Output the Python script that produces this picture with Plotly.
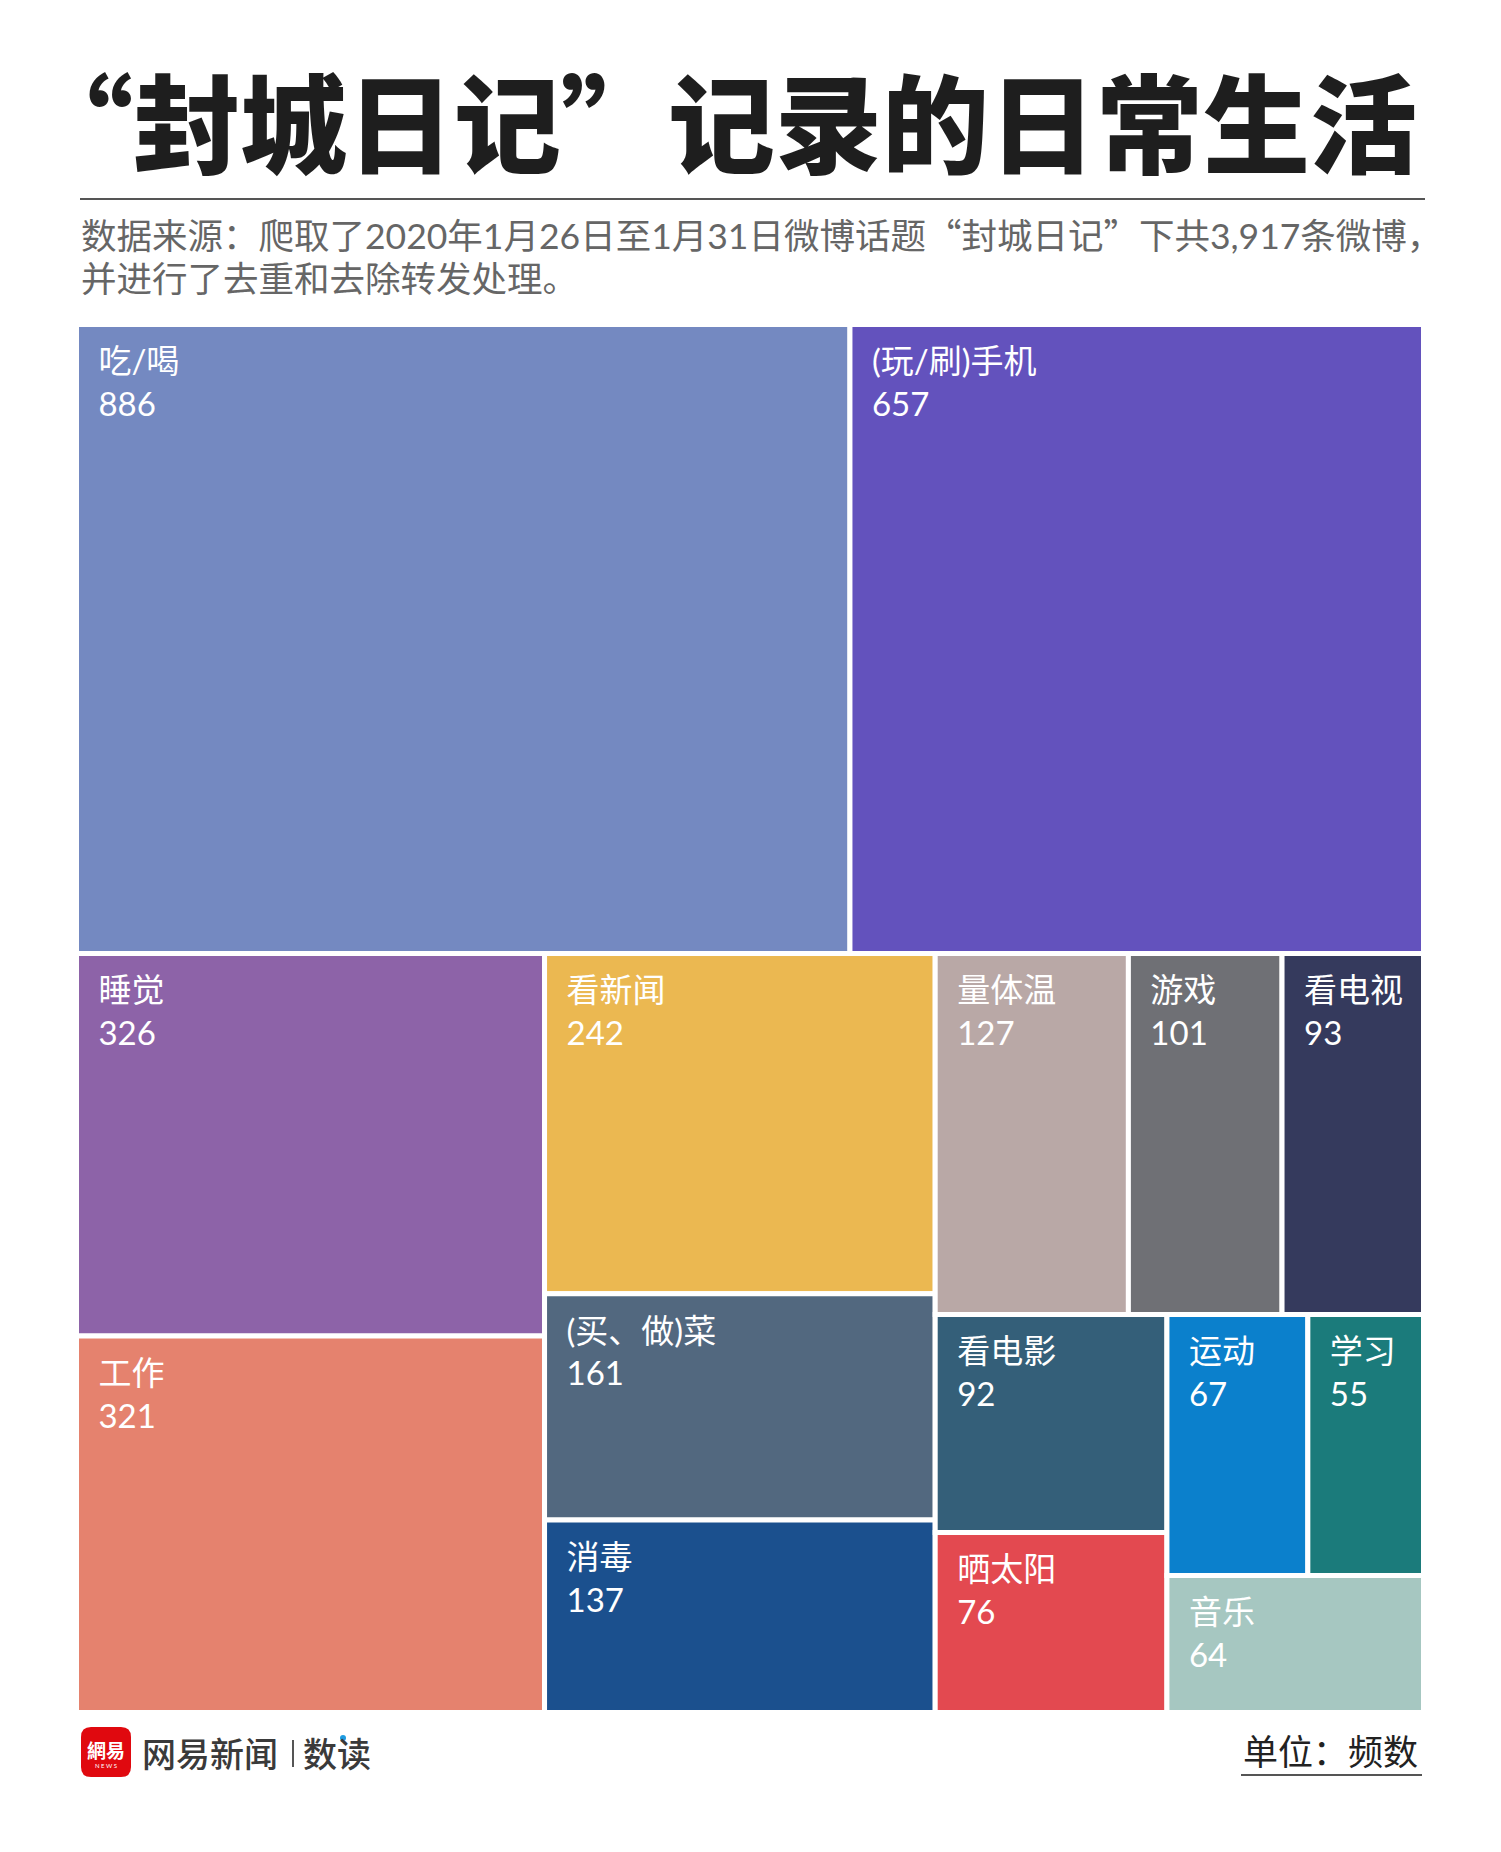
import plotly.graph_objects as go

W, H = 1501, 1852

# ---- data ----
labels = ["吃/喝", "(玩/刷)手机", "睡觉", "工作", "看新闻", "(买、做)菜", "消毒",
          "量体温", "游戏", "看电视", "看电影", "晒太阳", "运动", "学习", "音乐"]
values = [886, 657, 326, 321, 242, 161, 137, 127, 101, 93, 92, 76, 67, 55, 64]
colors = ["#7489c1", "#6352bd", "#8d63a8", "#e5826e", "#ebb851", "#52687f", "#1b508e",
          "#b9a8a6", "#6f7075", "#353a5d", "#345f79", "#e34950", "#0b80cc", "#1b7b7b", "#a6c7c1"]

title_text = "“封城日记”记录的日常生活"
Q1 = "<span style=\"font-family:'Noto Sans CJK SC'\">“</span>"
Q2 = "<span style=\"font-family:'Noto Sans CJK SC'\">”</span>"
subtitle_line1 = f"数据来源：爬取了2020年1月26日至1月31日微博话题{Q1}封城日记{Q2}下共3,917条微博，"
subtitle_line2 = "并进行了去重和去除转发处理。"
unit_text = "单位：频数"


def px(x):
    return x / W


def py(y):
    return 1 - y / H


# treemap area (pixels)
gap = 5
L, R, T, B = 79, 1421, 327, 1710

NB = "\u00a0\u00a0\u200a"
tile_template = ("<span style=\"font-size:3px\">\u00a0</span><br>"
                 + NB + "%{label}<br>" + NB + "%{value}")

fig = go.Figure(go.Treemap(
    labels=labels,
    parents=[""] * len(labels),
    values=values,
    sort=False,
    tiling=dict(packing="squarify", squarifyratio=1.618, pad=0),
    marker=dict(colors=colors, line=dict(color="white", width=gap),
                pad=dict(t=0, l=0, r=0, b=0)),
    texttemplate=tile_template,
    textposition="top left",
    textfont=dict(family="Lato, Noto Sans CJK SC", size=33, color="white"),
    pathbar=dict(visible=False),
    hoverinfo="skip",
    domain=dict(x=[px(L - gap / 2), px(R + gap / 2)], y=[py(B + gap / 2), py(T - gap / 2)]),
))

shapes = []
annotations = []

# title
annotations.append(dict(
    x=px(24), y=py(39), xref="paper", yref="paper", xanchor="left", yanchor="top",
    text=title_text, showarrow=False,
    font=dict(family="Noto Sans CJK SC", size=107, color="#1e1e1e", weight=900),
))
shapes.append(dict(type="line", xref="paper", yref="paper",
                   x0=px(80), x1=px(1425), y0=py(199), y1=py(199),
                   line=dict(color="#555555", width=2)))
# subtitle
sub_font = dict(family="Lato, Noto Sans CJK SC", size=35.5, color="#666666")
annotations.append(dict(
    x=px(79), y=py(206), xref="paper", yref="paper", xanchor="left", yanchor="top",
    text=subtitle_line1, showarrow=False, align="left", font=sub_font,
))
annotations.append(dict(
    x=px(79), y=py(255), xref="paper", yref="paper", xanchor="left", yanchor="top",
    text=subtitle_line2, showarrow=False, align="left", font=sub_font,
))

# footer logo
lx0, ly0, lx1, ly1, r = 81, 1727, 131, 1777, 10
path = (f"M {px(lx0 + r)} {py(ly0)} L {px(lx1 - r)} {py(ly0)} "
        f"Q {px(lx1)} {py(ly0)} {px(lx1)} {py(ly0 + r)} L {px(lx1)} {py(ly1 - r)} "
        f"Q {px(lx1)} {py(ly1)} {px(lx1 - r)} {py(ly1)} L {px(lx0 + r)} {py(ly1)} "
        f"Q {px(lx0)} {py(ly1)} {px(lx0)} {py(ly1 - r)} L {px(lx0)} {py(ly0 + r)} "
        f"Q {px(lx0)} {py(ly0)} {px(lx0 + r)} {py(ly0)} Z")
shapes.append(dict(type="path", xref="paper", yref="paper", path=path,
                   fillcolor="#e0090f", line=dict(width=0)))
annotations.append(dict(x=px(106), y=py(1749), xref="paper", yref="paper",
                        text="網易", showarrow=False, xanchor="center", yanchor="middle",
                        font=dict(family="Noto Sans CJK SC", size=19, color="white", weight=700)))
annotations.append(dict(x=px(106), y=py(1765), xref="paper", yref="paper",
                        text="N E W S", showarrow=False, xanchor="center", yanchor="middle",
                        font=dict(family="Lato", size=6, color="white")))
annotations.append(dict(x=px(140), y=py(1752), xref="paper", yref="paper",
                        text="网易新闻", showarrow=False, xanchor="left", yanchor="middle",
                        font=dict(family="Noto Sans CJK SC", size=34, color="#3a3a3a", weight=500)))
shapes.append(dict(type="line", xref="paper", yref="paper",
                   x0=px(293), x1=px(293), y0=py(1740), y1=py(1767),
                   line=dict(color="#555555", width=2)))
annotations.append(dict(x=px(301), y=py(1752), xref="paper", yref="paper",
                        text="数读", showarrow=False, xanchor="left", yanchor="middle",
                        font=dict(family="Noto Sans CJK SC", size=34, color="#3a3a3a", weight=500)))
shapes.append(dict(type="circle", xref="paper", yref="paper",
                   x0=px(340), x1=px(346), y0=py(1735), y1=py(1741),
                   fillcolor="#1e9be0", line=dict(width=0)))

# unit
annotations.append(dict(x=px(1420), y=py(1749), xref="paper", yref="paper",
                        text=unit_text, showarrow=False, xanchor="right", yanchor="middle",
                        font=dict(family="Noto Sans CJK SC", size=35, color="#222222")))
shapes.append(dict(type="line", xref="paper", yref="paper",
                   x0=px(1241), x1=px(1422), y0=py(1775), y1=py(1775),
                   line=dict(color="#555555", width=2)))

fig.update_layout(
    width=W, height=H,
    margin=dict(l=0, r=0, t=0, b=0),
    paper_bgcolor="white",
    plot_bgcolor="white",
    shapes=shapes,
    annotations=annotations,
    showlegend=False,
)

fig.write_html("out.html", config={"displayModeBar": False},
               post_script="document.body.style.margin='0px';")
